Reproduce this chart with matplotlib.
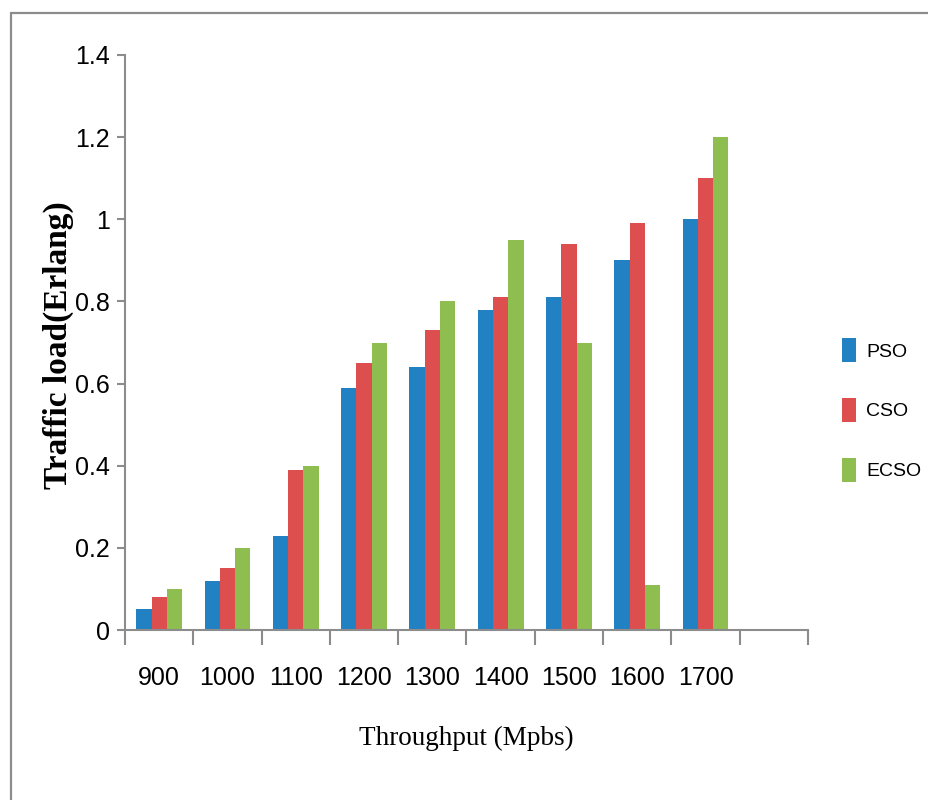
import numpy as np
import matplotlib.pyplot as plt
from matplotlib.patches import Rectangle

categories = ["900", "1000", "1100", "1200", "1300", "1400", "1500", "1600", "1700"]
pso = [0.05, 0.12, 0.23, 0.59, 0.64, 0.78, 0.81, 0.90, 1.00]
cso = [0.08, 0.15, 0.39, 0.65, 0.73, 0.81, 0.94, 0.99, 1.10]
ecso = [0.10, 0.20, 0.40, 0.70, 0.80, 0.95, 0.70, 0.11, 1.20]
series_names = ["PSO", "CSO", "ECSO"]
colors = ["#2181C2", "#DD4F4E", "#8EBD50"]
n_slots = 10  # one empty slot after the last group

tick_font = ["Liberation Sans", "DejaVu Sans"]
title_font = ["Liberation Serif", "DejaVu Serif"]
gray = "#8C8C8C"

fig = plt.figure(figsize=(9.29, 8.0), dpi=100)
ax = fig.add_axes([125 / 929, 170 / 800, 683 / 929, 575 / 800])

# outer frame (only left and top edges fall inside the image)
fig.patches.append(Rectangle((11 / 929, -0.1), 1.2, (800 - 13) / 800 + 0.1,
                             transform=fig.transFigure, fill=False,
                             edgecolor=gray, linewidth=1.6))

x = np.arange(len(categories))
w = 0.224
for i, (vals, name, c) in enumerate(zip([pso, cso, ecso], series_names, colors)):
    ax.bar(x + (i - 1) * w, vals, width=w, color=c, label=name, linewidth=0)

ax.set_xlim(-0.5, n_slots - 0.5)
ax.set_ylim(0, 1.4)

ax.set_yticks(np.arange(0, 1.41, 0.2))
ax.set_yticklabels(["0", "0.2", "0.4", "0.6", "0.8", "1", "1.2", "1.4"],
                   family=tick_font, fontsize=18)
ax.set_xticks(x)
ax.set_xticklabels(categories, family=tick_font, fontsize=18)
ax.set_xticks(np.arange(n_slots + 1) - 0.5, minor=True)

ax.tick_params(axis="y", direction="out", length=6, width=1.5, color=gray, pad=5)
ax.tick_params(axis="x", which="major", length=0, pad=26)
ax.tick_params(axis="x", which="minor", direction="out", length=11, width=1.5, color=gray)

for side in ["top", "right"]:
    ax.spines[side].set_visible(False)
for side in ["left", "bottom"]:
    ax.spines[side].set_color(gray)
    ax.spines[side].set_linewidth(1.5)

ax.set_ylabel("Traffic load(Erlang)", family=title_font, fontsize=24,
              fontweight="bold")
ax.yaxis.set_label_coords(-0.075, 0.496)
ax.set_xlabel("Throughput (Mpbs)", family=title_font, fontsize=19.5)
ax.xaxis.set_label_coords(0.5, -0.166)

fig.legend(loc="center left", bbox_to_anchor=(834 / 929, 1 - 410 / 800),
           frameon=False, prop={"family": tick_font, "size": 14},
           handlelength=0.75, handleheight=1.5, handletextpad=0.5,
           labelspacing=1.85, borderaxespad=0)

fig.savefig("out.png", dpi=100)
